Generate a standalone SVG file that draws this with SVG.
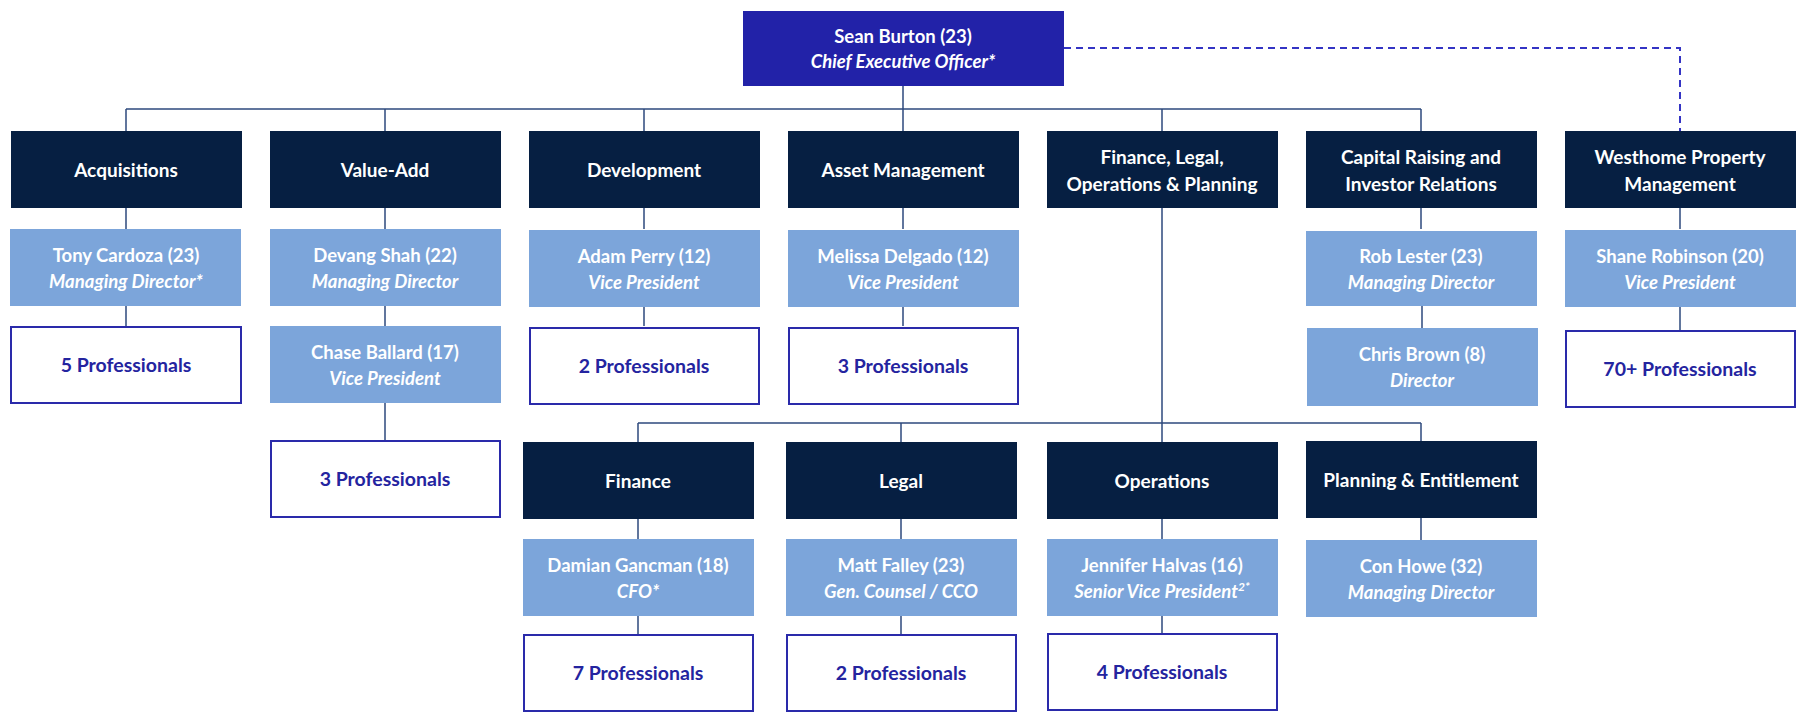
<svg xmlns="http://www.w3.org/2000/svg" width="1797" height="714" viewBox="0 0 1797 714">
  <style>
    text { font-family: Lato, "Open Sans", "Liberation Sans", sans-serif; font-weight: 700; font-size: 18.5px; text-anchor: middle; }
    .ceo { fill: #2222A8; }
    .dept { fill: #061F42; }
    .person { fill: #7CA5DA; }
    .team { fill: #FFFFFF; stroke: #2A2AAA; stroke-width: 2; }
    .wt { fill: #FFFFFF; }
    .dt { font-size: 19px; }
    .it { font-style: italic; }
    .bt { fill: #24249F; font-size: 19.5px; }
    .conn { fill: none; stroke: #2E4A7D; stroke-width: 1.5; }
    .dash { fill: none; stroke: #3434C4; stroke-width: 2; stroke-dasharray: 7 5; }
  </style>

  <!-- connectors -->
  <g id="connectors">
    <path class="conn" d="M903 86 V109 M126 109 H1421 M126 109 V131 M385 109 V131 M644 109 V131 M903 109 V131 M1162 109 V131 M1421 109 V131"/>
    <path class="conn" d="M126 208 V229 M126 306 V326"/>
    <path class="conn" d="M385 208 V229 M385 306 V326 M385 403 V440"/>
    <path class="conn" d="M644 208 V229 M644 306 V326"/>
    <path class="conn" d="M903 208 V229 M903 306 V326"/>
    <path class="conn" d="M1421 208 V229 M1422 306 V328"/>
    <path class="conn" d="M1680 208 V229 M1680 306 V330"/>
    <path class="conn" d="M1162 208 V423 M638 423 H1421 M638 423 V442 M901 423 V442 M1162 423 V442 M1421 423 V441"/>
    <path class="conn" d="M638 519 V539 M638 616 V634 M901 519 V539 M901 616 V634 M1162 519 V539 M1162 616 V634 M1421 518 V540"/>
    <path class="dash" d="M1064 48 H1680 V131"/>
  </g>

  <g id="ceo">
    <rect class="ceo" x="743" y="11" width="321" height="75"/>
    <text class="wt" x="903" y="43">Sean Burton (23)</text>
    <text class="wt it" x="903" y="68">Chief Executive Officer*</text>
  </g>

  <!-- top-level departments -->
  <g id="acquisitions">
    <rect class="dept" x="11" y="131" width="231" height="77"/>
    <text class="wt dt" x="126" y="177">Acquisitions</text>
  </g>
  <g id="value-add">
    <rect class="dept" x="270" y="131" width="231" height="77"/>
    <text class="wt dt" x="385" y="177">Value-Add</text>
  </g>
  <g id="development">
    <rect class="dept" x="529" y="131" width="231" height="77"/>
    <text class="wt dt" x="644" y="177">Development</text>
  </g>
  <g id="asset-management">
    <rect class="dept" x="788" y="131" width="231" height="77"/>
    <text class="wt dt" x="903" y="177">Asset Management</text>
  </g>
  <g id="finance-legal-ops">
    <rect class="dept" x="1047" y="131" width="231" height="77"/>
    <text class="wt dt" x="1162" y="164">Finance, Legal,</text>
    <text class="wt dt" x="1162" y="191">Operations &amp; Planning</text>
  </g>
  <g id="capital-raising">
    <rect class="dept" x="1306" y="131" width="231" height="77"/>
    <text class="wt dt" x="1421" y="164">Capital Raising and</text>
    <text class="wt dt" x="1421" y="191">Investor Relations</text>
  </g>
  <g id="westhome">
    <rect class="dept" x="1565" y="131" width="231" height="77"/>
    <text class="wt dt" x="1680" y="164">Westhome Property</text>
    <text class="wt dt" x="1680" y="191">Management</text>
  </g>

  <!-- department heads -->
  <g id="tony-cardoza">
    <rect class="person" x="10" y="229" width="231" height="77"/>
    <text class="wt" x="126" y="262">Tony Cardoza (23)</text>
    <text class="wt it" x="126" y="288">Managing Director*</text>
  </g>
  <g id="devang-shah">
    <rect class="person" x="270" y="229" width="231" height="77"/>
    <text class="wt" x="385" y="262">Devang Shah (22)</text>
    <text class="wt it" x="385" y="288">Managing Director</text>
  </g>
  <g id="adam-perry">
    <rect class="person" x="529" y="230" width="231" height="77"/>
    <text class="wt" x="644" y="263">Adam Perry (12)</text>
    <text class="wt it" x="644" y="289">Vice President</text>
  </g>
  <g id="melissa-delgado">
    <rect class="person" x="788" y="230" width="231" height="77"/>
    <text class="wt" x="903" y="263">Melissa Delgado (12)</text>
    <text class="wt it" x="903" y="289">Vice President</text>
  </g>
  <g id="rob-lester">
    <rect class="person" x="1306" y="231" width="231" height="75"/>
    <text class="wt" x="1421" y="263">Rob Lester (23)</text>
    <text class="wt it" x="1421" y="289">Managing Director</text>
  </g>
  <g id="shane-robinson">
    <rect class="person" x="1565" y="230" width="231" height="77"/>
    <text class="wt" x="1680" y="263">Shane Robinson (20)</text>
    <text class="wt it" x="1680" y="289">Vice President</text>
  </g>
  <g id="chase-ballard">
    <rect class="person" x="270" y="326" width="231" height="77"/>
    <text class="wt" x="385" y="359">Chase Ballard (17)</text>
    <text class="wt it" x="385" y="385">Vice President</text>
  </g>
  <g id="chris-brown">
    <rect class="person" x="1307" y="328" width="231" height="78"/>
    <text class="wt" x="1422" y="361">Chris Brown (8)</text>
    <text class="wt it" x="1422" y="387">Director</text>
  </g>

  <!-- team sizes -->
  <g id="acq-team">
    <rect class="team" x="11" y="327" width="230" height="76"/>
    <text class="bt" x="126" y="372">5 Professionals</text>
  </g>
  <g id="dev-team">
    <rect class="team" x="530" y="328" width="229" height="76"/>
    <text class="bt" x="644" y="373">2 Professionals</text>
  </g>
  <g id="am-team">
    <rect class="team" x="789" y="328" width="229" height="76"/>
    <text class="bt" x="903" y="373">3 Professionals</text>
  </g>
  <g id="wh-team">
    <rect class="team" x="1566" y="331" width="229" height="76"/>
    <text class="bt" x="1680" y="376">70+ Professionals</text>
  </g>
  <g id="va-team">
    <rect class="team" x="271" y="441" width="229" height="76"/>
    <text class="bt" x="385" y="486">3 Professionals</text>
  </g>

  <!-- sub-departments -->
  <g id="finance">
    <rect class="dept" x="523" y="442" width="231" height="77"/>
    <text class="wt dt" x="638" y="488">Finance</text>
  </g>
  <g id="legal">
    <rect class="dept" x="786" y="442" width="231" height="77"/>
    <text class="wt dt" x="901" y="488">Legal</text>
  </g>
  <g id="operations">
    <rect class="dept" x="1047" y="442" width="231" height="77"/>
    <text class="wt dt" x="1162" y="488">Operations</text>
  </g>
  <g id="planning">
    <rect class="dept" x="1306" y="441" width="231" height="77"/>
    <text class="wt dt" x="1421" y="487">Planning &amp; Entitlement</text>
  </g>

  <g id="damian-gancman">
    <rect class="person" x="523" y="539" width="231" height="77"/>
    <text class="wt" x="638" y="572">Damian Gancman (18)</text>
    <text class="wt it" x="638" y="598">CFO*</text>
  </g>
  <g id="matt-falley">
    <rect class="person" x="786" y="539" width="231" height="77"/>
    <text class="wt" x="901" y="572">Matt Falley (23)</text>
    <text class="wt it" x="901" y="598">Gen. Counsel / CCO</text>
  </g>
  <g id="jennifer-halvas">
    <rect class="person" x="1047" y="539" width="231" height="77"/>
    <text class="wt" x="1162" y="572">Jennifer Halvas (16)</text>
    <text class="wt it" x="1162" y="598">Senior Vice President<tspan font-size="12" baseline-shift="super">2*</tspan></text>
  </g>
  <g id="con-howe">
    <rect class="person" x="1306" y="540" width="231" height="77"/>
    <text class="wt" x="1421" y="573">Con Howe (32)</text>
    <text class="wt it" x="1421" y="599">Managing Director</text>
  </g>

  <g id="fin-team">
    <rect class="team" x="524" y="635" width="229" height="76"/>
    <text class="bt" x="638" y="680">7 Professionals</text>
  </g>
  <g id="legal-team">
    <rect class="team" x="787" y="635" width="229" height="76"/>
    <text class="bt" x="901" y="680">2 Professionals</text>
  </g>
  <g id="ops-team">
    <rect class="team" x="1048" y="634" width="229" height="76"/>
    <text class="bt" x="1162" y="679">4 Professionals</text>
  </g>
</svg>
